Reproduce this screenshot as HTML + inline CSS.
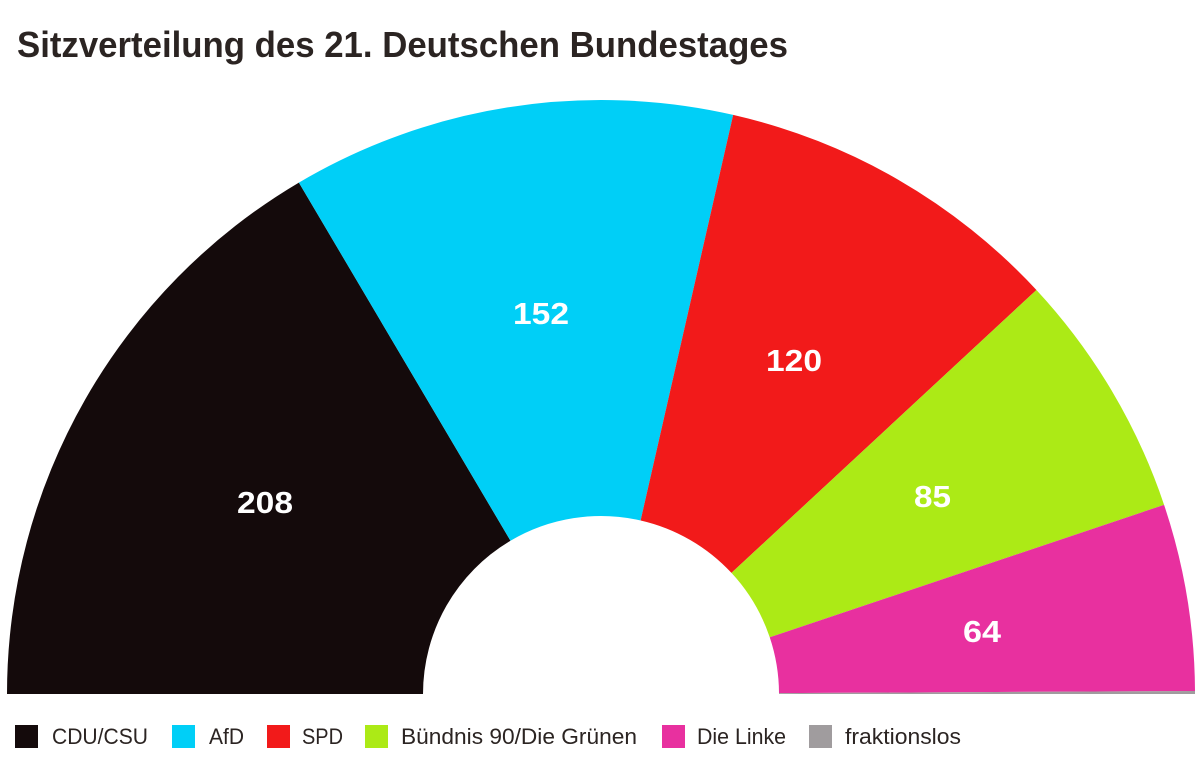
<!DOCTYPE html>
<html>
<head>
<meta charset="utf-8">
<style>
  html, body { margin: 0; padding: 0; background: #ffffff; }
  body { width: 1200px; height: 781px; overflow: hidden; }
  svg { display: block; }
  .lbl { font-family: "Liberation Sans", sans-serif; font-weight: bold; fill: #ffffff; font-size: 31px; }
  .leg { font-family: "Liberation Sans", sans-serif; fill: #2b2422; font-size: 22px; }
</style>
</head>
<body>
<svg width="1200" height="781" viewBox="0 0 1200 781" xmlns="http://www.w3.org/2000/svg">
  <rect x="0" y="0" width="1200" height="781" fill="#ffffff"/>
  <text x="17" y="57" font-family="Liberation Sans, sans-serif" font-weight="bold" font-size="36" fill="#2b2422" textLength="771" lengthAdjust="spacingAndGlyphs">Sitzverteilung des 21. Deutschen Bundestages</text>

  <!-- CDU/CSU -->
  <path d="M7,694 A594,594 0 0 1 298.89,182.57 L510.47,540.74 A178,178 0 0 0 423,694 Z" fill="#140a0b"/>
  <!-- AfD -->
  <path d="M298.89,182.57 A594,594 0 0 1 733.18,114.89 L640.61,520.46 A178,178 0 0 0 510.47,540.74 Z" fill="#00cff7"/>
  <!-- SPD -->
  <path d="M733.18,114.89 A594,594 0 0 1 1036.43,289.97 L731.48,572.93 A178,178 0 0 0 640.61,520.46 Z" fill="#f21a1a"/>
  <!-- Grüne -->
  <path d="M1036.43,289.97 A594,594 0 0 1 1164.07,504.82 L769.73,637.31 A178,178 0 0 0 731.48,572.93 Z" fill="#acea16"/>
  <!-- Linke -->
  <path d="M1164.07,504.82 A594,594 0 0 1 1195,691.04 L779,693.11 A178,178 0 0 0 769.73,637.31 Z" fill="#e8309f"/>
  <!-- fraktionslos -->
  <path d="M1195,691.04 A594,594 0 0 1 1195,694 L779,694 A178,178 0 0 0 779,693.11 Z" fill="#a09c9e"/>

  <text class="lbl" x="237" y="513" textLength="56" lengthAdjust="spacingAndGlyphs">208</text>
  <text class="lbl" x="513" y="324" textLength="56" lengthAdjust="spacingAndGlyphs">152</text>
  <text class="lbl" x="766" y="371" textLength="56" lengthAdjust="spacingAndGlyphs">120</text>
  <text class="lbl" x="914" y="507" textLength="37" lengthAdjust="spacingAndGlyphs">85</text>
  <text class="lbl" x="963" y="642" textLength="38" lengthAdjust="spacingAndGlyphs">64</text>

  <!-- Legend -->
  <rect x="15" y="725" width="23" height="23" fill="#140a0b"/>
  <text class="leg" x="52" y="744" textLength="96" lengthAdjust="spacingAndGlyphs">CDU/CSU</text>
  <rect x="172" y="725" width="23" height="23" fill="#00cff7"/>
  <text class="leg" x="209" y="744" textLength="35" lengthAdjust="spacingAndGlyphs">AfD</text>
  <rect x="267" y="725" width="23" height="23" fill="#f21a1a"/>
  <text class="leg" x="302" y="744" textLength="41" lengthAdjust="spacingAndGlyphs">SPD</text>
  <rect x="365" y="725" width="23" height="23" fill="#acea16"/>
  <text class="leg" x="401" y="744" textLength="236" lengthAdjust="spacingAndGlyphs">Bündnis 90/Die Grünen</text>
  <rect x="662" y="725" width="23" height="23" fill="#e8309f"/>
  <text class="leg" x="697" y="744" textLength="89" lengthAdjust="spacingAndGlyphs">Die Linke</text>
  <rect x="809" y="725" width="23" height="23" fill="#a09c9e"/>
  <text class="leg" x="845" y="744" textLength="116" lengthAdjust="spacingAndGlyphs">fraktionslos</text>
</svg>
</body>
</html>
